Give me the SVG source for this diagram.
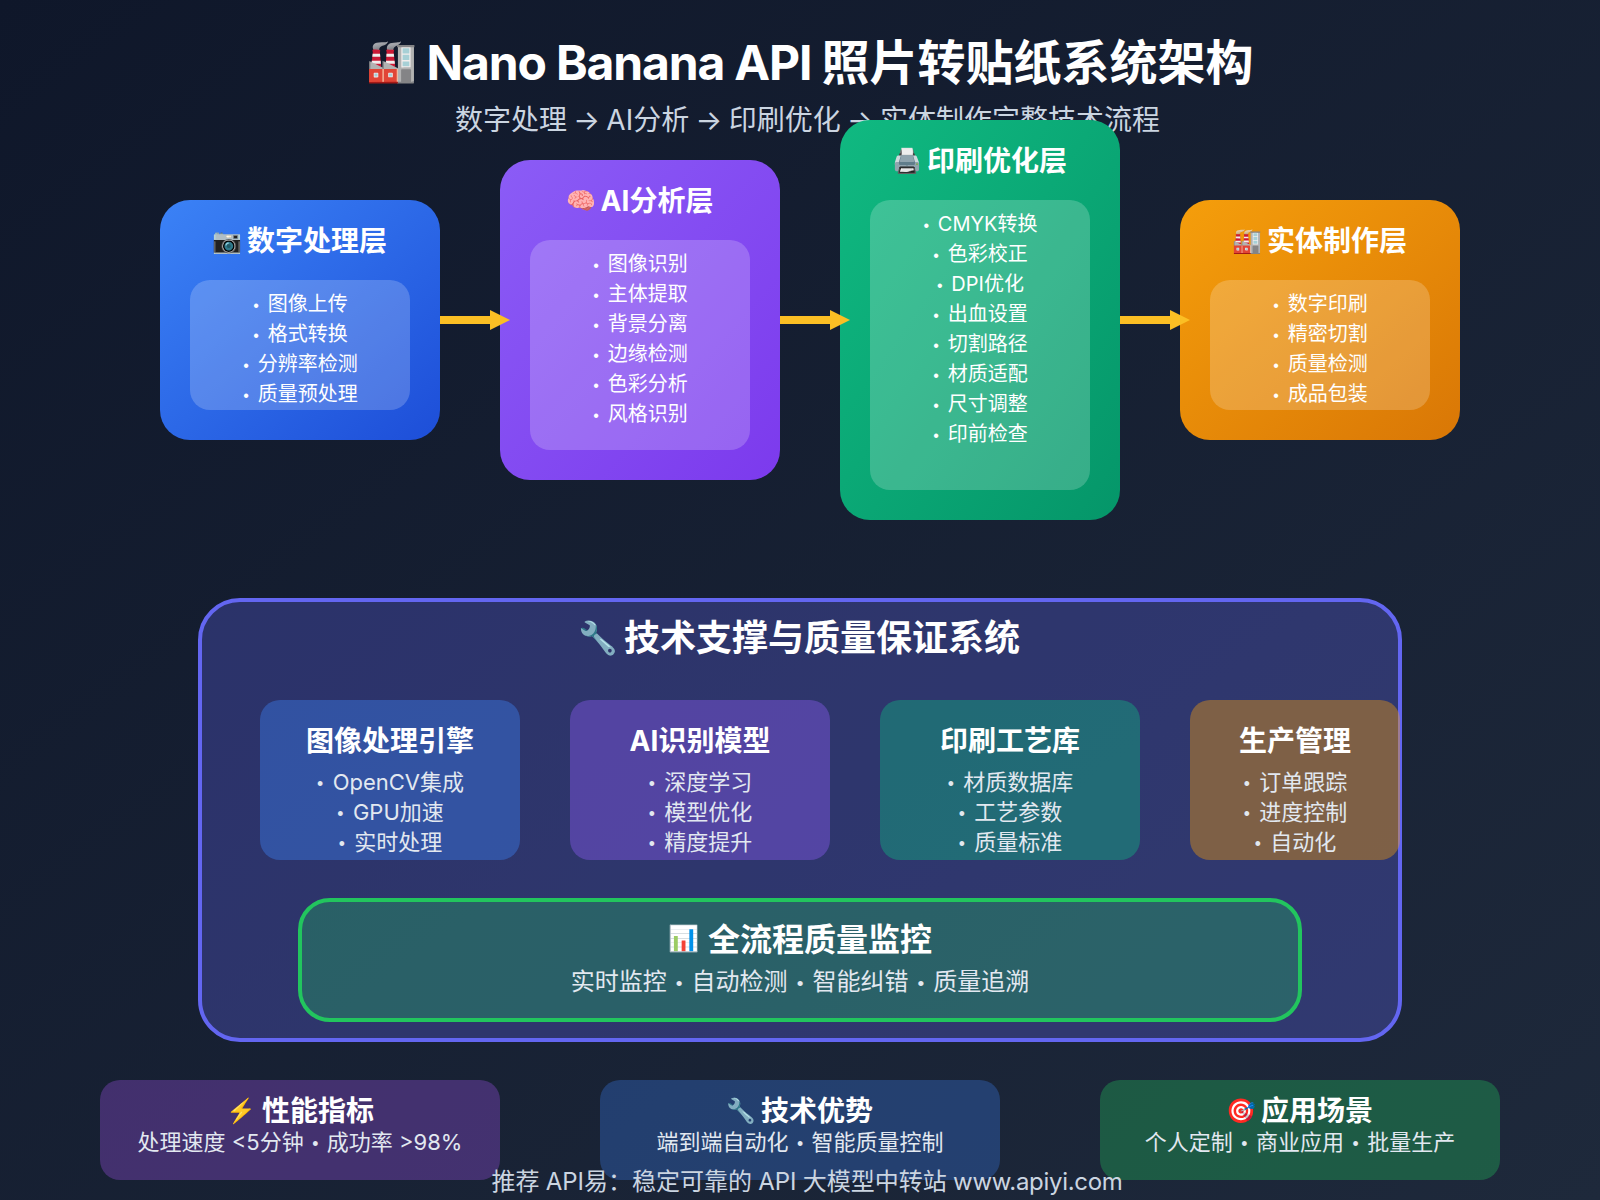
<svg xmlns="http://www.w3.org/2000/svg" width="1600" height="1200" viewBox="0 0 1600 1200">
<defs>
<linearGradient id="bg" x1="0" y1="0" x2="1" y2="1"><stop offset="0" stop-color="#0f172a"/><stop offset="1" stop-color="#1e293b"/></linearGradient>
<linearGradient id="gb" x1="0" y1="0" x2="1" y2="1"><stop offset="0" stop-color="#3b82f6"/><stop offset="1" stop-color="#1d4ed8"/></linearGradient>
<linearGradient id="gp" x1="0" y1="0" x2="1" y2="1"><stop offset="0" stop-color="#8b5cf6"/><stop offset="1" stop-color="#7c3aed"/></linearGradient>
<linearGradient id="gg" x1="0" y1="0" x2="1" y2="1"><stop offset="0" stop-color="#10b981"/><stop offset="1" stop-color="#059669"/></linearGradient>
<linearGradient id="go" x1="0" y1="0" x2="1" y2="1"><stop offset="0" stop-color="#f59e0b"/><stop offset="1" stop-color="#d97706"/></linearGradient>
<marker id="ah" markerUnits="userSpaceOnUse" markerWidth="20" markerHeight="20" refX="0" refY="10" orient="auto"><path d="M0 0L20 10L0 20Z" fill="#fbbf24"/></marker>
</defs>
<style>
text{font-family:"Inter","Noto Sans CJK SC",sans-serif;text-anchor:middle;fill:#fff}
.emoji{font-family:"Noto Color Emoji","Apple Color Emoji",sans-serif}
.t1{font-size:48px;font-weight:700;text-anchor:start}
.lat{letter-spacing:-1.15px}
.sub{font-size:28px;fill:#cbd5e1;word-spacing:-1.5px}
.lt{font-size:28px;font-weight:700}
.li{font-size:20px}
.inner{fill:#fff;fill-opacity:.2}
.ci{font-size:22px;fill:#e2e8f0}
.s22{font-size:22px;fill:#e2e8f0}
.foot{font-size:24px;fill:#cbd5e1;word-spacing:-.5px}
.b{font-family:"Liberation Sans",sans-serif;font-size:.8em;letter-spacing:.19em}
.bi{font-family:"Liberation Sans",sans-serif;font-size:.8em;letter-spacing:2.3px}
.url{letter-spacing:-.3px}
</style>
<rect width="1600" height="1200" fill="url(#bg)"/>
<g id="title"><text class="emoji" x="392" y="75" font-size="41">🏭</text><text class="t1" x="426.500" y="80"><tspan class="lat">Nano Banana API </tspan>照片转贴纸系统架构</text><text class="sub" x="807.5" y="130">数字处理 → AI分析 → 印刷优化 → 实体制作完整技术流程</text></g>
<g id="layer-digital"><rect x="160" y="200" width="280" height="240" rx="30" fill="url(#gb)"/><rect class="inner" x="190" y="280" width="220" height="130" rx="20"/><text class="emoji" x="227" y="248.500" font-size="24">📷</text><text class="lt" x="317" y="251">数字处理层</text><text class="li" x="300.500" y="310.500"><tspan class="b">•</tspan> 图像上传</text><text class="li" x="300.500" y="340.500"><tspan class="b">•</tspan> 格式转换</text><text class="li" x="300.500" y="370.500"><tspan class="b">•</tspan> 分辨率检测</text><text class="li" x="300.500" y="400.500"><tspan class="b">•</tspan> 质量预处理</text></g>
<g id="layer-ai"><rect x="500" y="160" width="280" height="320" rx="30" fill="url(#gp)"/><rect class="inner" x="530" y="240" width="220" height="210" rx="20"/><text class="emoji" x="581" y="208.500" font-size="24">🧠</text><text class="lt" x="657" y="211">AI分析层</text><text class="li" x="640.500" y="270.500"><tspan class="b">•</tspan> 图像识别</text><text class="li" x="640.500" y="300.500"><tspan class="b">•</tspan> 主体提取</text><text class="li" x="640.500" y="330.500"><tspan class="b">•</tspan> 背景分离</text><text class="li" x="640.500" y="360.500"><tspan class="b">•</tspan> 边缘检测</text><text class="li" x="640.500" y="390.500"><tspan class="b">•</tspan> 色彩分析</text><text class="li" x="640.500" y="420.500"><tspan class="b">•</tspan> 风格识别</text></g>
<g id="layer-print"><rect x="840" y="120" width="280" height="400" rx="30" fill="url(#gg)"/><rect class="inner" x="870" y="200" width="220" height="290" rx="20"/><text class="emoji" x="907" y="168.500" font-size="24">🖨️</text><text class="lt" x="997" y="171">印刷优化层</text><text class="li" x="980.500" y="230.500"><tspan class="b">•</tspan> CMYK转换</text><text class="li" x="980.500" y="260.500"><tspan class="b">•</tspan> 色彩校正</text><text class="li" x="980.500" y="290.500"><tspan class="b">•</tspan> DPI优化</text><text class="li" x="980.500" y="320.500"><tspan class="b">•</tspan> 出血设置</text><text class="li" x="980.500" y="350.500"><tspan class="b">•</tspan> 切割路径</text><text class="li" x="980.500" y="380.500"><tspan class="b">•</tspan> 材质适配</text><text class="li" x="980.500" y="410.500"><tspan class="b">•</tspan> 尺寸调整</text><text class="li" x="980.500" y="440.500"><tspan class="b">•</tspan> 印前检查</text></g>
<g id="layer-make"><rect x="1180" y="200" width="280" height="240" rx="30" fill="url(#go)"/><rect class="inner" x="1210" y="280" width="220" height="130" rx="20"/><text class="emoji" x="1247" y="248.500" font-size="24">🏭</text><text class="lt" x="1337" y="251">实体制作层</text><text class="li" x="1320.500" y="310.500"><tspan class="b">•</tspan> 数字印刷</text><text class="li" x="1320.500" y="340.500"><tspan class="b">•</tspan> 精密切割</text><text class="li" x="1320.500" y="370.500"><tspan class="b">•</tspan> 质量检测</text><text class="li" x="1320.500" y="400.500"><tspan class="b">•</tspan> 成品包装</text></g>
<g id="support"><rect x="200" y="600" width="1200" height="440" rx="40" fill="#6366f1" fill-opacity=".3" stroke="#6366f1" stroke-width="4"/><text class="emoji" x="598" y="649" font-size="32">🔧</text><text x="822" y="651" font-size="36" font-weight="700">技术支撑与质量保证系统</text></g>
<g id="card-image"><rect x="260" y="700" width="260" height="160" rx="20" fill="#3b82f6" fill-opacity=".4"/><text class="lt" x="390" y="751">图像处理引擎</text><text class="ci" x="390.500" y="790"><tspan class="b">•</tspan> OpenCV集成</text><text class="ci" x="390.500" y="820"><tspan class="b">•</tspan> GPU加速</text><text class="ci" x="390.500" y="850"><tspan class="b">•</tspan> 实时处理</text></g>
<g id="card-ai"><rect x="570" y="700" width="260" height="160" rx="20" fill="#8b5cf6" fill-opacity=".4"/><text class="lt" x="700" y="751">AI识别模型</text><text class="ci" x="700.500" y="790"><tspan class="b">•</tspan> 深度学习</text><text class="ci" x="700.500" y="820"><tspan class="b">•</tspan> 模型优化</text><text class="ci" x="700.500" y="850"><tspan class="b">•</tspan> 精度提升</text></g>
<g id="card-print"><rect x="880" y="700" width="260" height="160" rx="20" fill="#10b981" fill-opacity=".4"/><text class="lt" x="1010" y="751">印刷工艺库</text><text class="ci" x="1010.500" y="790"><tspan class="b">•</tspan> 材质数据库</text><text class="ci" x="1010.500" y="820"><tspan class="b">•</tspan> 工艺参数</text><text class="ci" x="1010.500" y="850"><tspan class="b">•</tspan> 质量标准</text></g>
<g id="card-prod"><rect x="1190" y="700" width="210" height="160" rx="20" fill="#f59e0b" fill-opacity=".4"/><text class="lt" x="1295" y="751">生产管理</text><text class="ci" x="1295.500" y="790"><tspan class="b">•</tspan> 订单跟踪</text><text class="ci" x="1295.500" y="820"><tspan class="b">•</tspan> 进度控制</text><text class="ci" x="1295.500" y="850"><tspan class="b">•</tspan> 自动化</text></g>
<g id="monitor"><rect x="300" y="900" width="1000" height="120" rx="30" fill="#22c55e" fill-opacity=".3" stroke="#22c55e" stroke-width="4"/><text class="emoji" x="684" y="947" font-size="25">📊</text><text x="820" y="951" font-size="32" font-weight="700">全流程质量监控</text><text class="ci" x="800" y="990" style="font-size:24px">实时监控 <tspan class="bi" dx="2.3">•</tspan> 自动检测 <tspan class="bi" dx="2.3">•</tspan> 智能纠错 <tspan class="bi" dx="2.3">•</tspan> 质量追溯</text></g>
<g id="stat-perf"><rect x="100" y="1080" width="400" height="100" rx="20" fill="#a855f7" fill-opacity=".3"/><text class="emoji" x="241" y="1119" font-size="24">⚡</text><text class="lt" x="318" y="1121">性能指标</text><text class="s22" x="300" y="1150">处理速度 &lt;5分钟 <tspan class="bi" dx="2.3">•</tspan> 成功率 &gt;98%</text></g>
<g id="stat-tech"><rect x="600" y="1080" width="400" height="100" rx="20" fill="#3b82f6" fill-opacity=".3"/><text class="emoji" x="741" y="1119" font-size="24">🔧</text><text class="lt" x="817" y="1121">技术优势</text><text class="s22" x="800" y="1150">端到端自动化 <tspan class="bi" dx="2.3">•</tspan> 智能质量控制</text></g>
<g id="stat-use"><rect x="1100" y="1080" width="400" height="100" rx="20" fill="#22c55e" fill-opacity=".33"/><text class="emoji" x="1241" y="1119" font-size="24">🎯</text><text class="lt" x="1317" y="1121">应用场景</text><text class="s22" x="1300" y="1150">个人定制 <tspan class="bi" dx="2.3">•</tspan> 商业应用 <tspan class="bi" dx="2.3">•</tspan> 批量生产</text></g>
<g id="footer"><text class="foot" x="807" y="1190">推荐 API易：稳定可靠的 API 大模型中转站 <tspan class="url">www.apiyi.com</tspan></text></g>
<g id="connectors" fill="none" stroke="#fbbf24" stroke-width="8"><path d="M440 320H490" marker-end="url(#ah)"/><path d="M780 320H830" marker-end="url(#ah)"/><path d="M1120 320H1170" marker-end="url(#ah)"/></g>
</svg>
